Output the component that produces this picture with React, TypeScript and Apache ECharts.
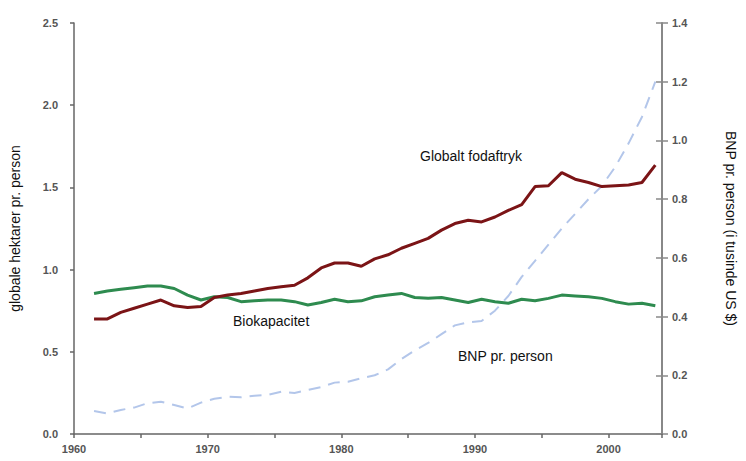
import React, { useEffect, useRef } from "react";
import * as echarts from "echarts";

const years = [
  1961, 1962, 1963, 1964, 1965, 1966, 1967, 1968, 1969, 1970,
  1971, 1972, 1973, 1974, 1975, 1976, 1977, 1978, 1979, 1980,
  1981, 1982, 1983, 1984, 1985, 1986, 1987, 1988, 1989, 1990,
  1991, 1992, 1993, 1994, 1995, 1996, 1997, 1998, 1999, 2000,
  2001, 2002, 2003,
];

const footprint = [
  0.70, 0.70, 0.74, 0.765, 0.79, 0.815, 0.78, 0.77, 0.775, 0.83,
  0.845, 0.855, 0.87, 0.885, 0.895, 0.905, 0.95, 1.01, 1.04, 1.04,
  1.02, 1.065, 1.09, 1.13, 1.16, 1.19, 1.24, 1.28, 1.30, 1.29,
  1.32, 1.36, 1.395, 1.505, 1.51, 1.59, 1.55, 1.53, 1.505, 1.51,
  1.515, 1.53, 1.635,
];

const biocapacity = [
  0.855, 0.87, 0.88, 0.89, 0.90, 0.90, 0.885, 0.845, 0.815, 0.835,
  0.83, 0.805, 0.81, 0.815, 0.815, 0.805, 0.785, 0.80, 0.82, 0.805,
  0.81, 0.835, 0.845, 0.855, 0.83, 0.825, 0.83, 0.815, 0.80, 0.82,
  0.805, 0.795, 0.82, 0.81, 0.825, 0.845, 0.84, 0.835, 0.825, 0.805,
  0.79, 0.795, 0.78,
];

const gdpPerPerson = [
  0.078, 0.07, 0.082, 0.09, 0.105, 0.11, 0.099, 0.087, 0.107, 0.12,
  0.127, 0.125, 0.13, 0.133, 0.144, 0.14, 0.15, 0.16, 0.175, 0.178,
  0.19, 0.20, 0.22, 0.255, 0.285, 0.31, 0.34, 0.37, 0.38, 0.385,
  0.42, 0.47, 0.535, 0.59, 0.645, 0.70, 0.75, 0.80, 0.845, 0.91,
  0.99, 1.08, 1.20,
];

const leftAxisName = "globale hektarer pr. person";
const rightAxisName = "BNP pr. person (i tusinde US $)";
const labelFootprint = "Globalt fodaftryk";
const labelBio = "Biokapacitet";
const labelGdp = "BNP pr. person";

const FONT = "'Liberation Sans', Arial, Helvetica, sans-serif";
const AXIS_COLOR = "#666";
const TICK_LABEL = { color: "#555", fontSize: 11, fontWeight: "bold" as const, fontFamily: FONT };

// values plotted at mid-year
const pairs = (vals: number[]) => years.map((y, i) => [y + 0.5, vals[i]]);

export default function App() {
  const ref = useRef<HTMLDivElement>(null);
  useEffect(() => {
    if (!ref.current) return;
    const chart = echarts.init(ref.current, null, { renderer: "svg" });
    chart.setOption({
      animation: false,
      backgroundColor: "#fff",
      grid: { left: 70, right: 72, top: 23, bottom: 27, containLabel: false },
      xAxis: {
        type: "value",
        min: 1960,
        max: 2004,
        interval: 5,
        splitLine: { show: false },
        axisLine: { show: true, lineStyle: { color: AXIS_COLOR, width: 1.5 } },
        axisTick: { show: true, inside: false, length: 4, lineStyle: { color: AXIS_COLOR, width: 1.5 } },
        axisLabel: {
          ...TICK_LABEL,
          margin: 9,
          formatter: (v: number) => (v % 10 === 0 && v <= 2000 ? String(v) : ""),
        },
      },
      yAxis: [
        {
          type: "value",
          min: 0,
          max: 2.5,
          interval: 0.5,
          position: "left",
          name: leftAxisName,
          nameLocation: "middle",
          nameRotate: 90,
          nameGap: 52,
          nameTextStyle: { color: "#111", fontSize: 14, fontFamily: FONT },
          splitLine: { show: false },
          axisLine: { show: true, lineStyle: { color: AXIS_COLOR, width: 1.5 } },
          axisTick: { show: true, inside: false, length: 4, lineStyle: { color: AXIS_COLOR, width: 1.5 } },
          axisLabel: { ...TICK_LABEL, margin: 16, formatter: (v: number) => v.toFixed(1) },
        },
        {
          type: "value",
          min: 0,
          max: 1.4,
          interval: 0.2,
          position: "right",
          name: rightAxisName,
          nameLocation: "middle",
          nameRotate: -90,
          nameGap: 62,
          nameTextStyle: { color: "#111", fontSize: 14, fontFamily: FONT },
          splitLine: { show: false },
          axisLine: { show: true, onZero: false, lineStyle: { color: "#888", width: 2 } },
          axisTick: { show: true, inside: false, length: 6, lineStyle: { color: "#888", width: 1.5 } },
          axisLabel: { ...TICK_LABEL, margin: 10, formatter: (v: number) => v.toFixed(1) },
        },
        {
          type: "value",
          min: 0,
          max: 1.4,
          interval: 0.2,
          position: "right",
          splitLine: { show: false },
          axisLine: { show: false },
          axisTick: { show: true, inside: true, length: 6, lineStyle: { color: "#888", width: 1.5 } },
          axisLabel: { show: false },
        },
      ],
      series: [
        {
          name: labelGdp,
          type: "line",
          yAxisIndex: 1,
          data: pairs(gdpPerPerson),
          showSymbol: false,
          lineStyle: { color: "#b3c6ea", width: 2, type: [12, 8] },
          z: 1,
        },
        {
          name: labelBio,
          type: "line",
          yAxisIndex: 0,
          data: pairs(biocapacity),
          showSymbol: false,
          lineStyle: { color: "#2e8b4f", width: 3 },
          z: 2,
        },
        {
          name: labelFootprint,
          type: "line",
          yAxisIndex: 0,
          data: pairs(footprint),
          showSymbol: false,
          lineStyle: { color: "#7b1416", width: 3 },
          z: 3,
        },
      ],
      graphic: [
        {
          type: "text",
          left: 420,
          top: 149,
          style: { text: labelFootprint, fill: "#111", font: `14px ${FONT}` },
        },
        {
          type: "text",
          left: 233,
          top: 314,
          style: { text: labelBio, fill: "#111", font: `14px ${FONT}` },
        },
        {
          type: "text",
          left: 458,
          top: 349,
          style: { text: labelGdp, fill: "#111", font: `14px ${FONT}` },
        },
      ],
    });
    return () => chart.dispose();
  }, []);
  return <div ref={ref} style={{ width: 746, height: 461, position: "absolute", left: 0, top: 0 }} />;
}
